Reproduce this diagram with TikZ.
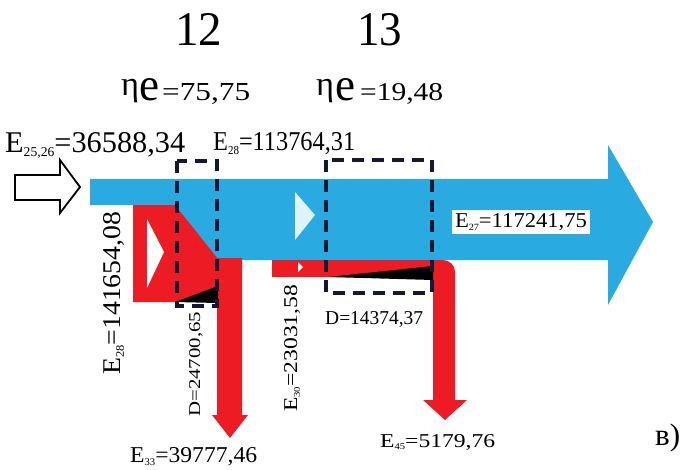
\documentclass[tikz,border=0pt]{standalone}
\usepackage{fontspec}
\setmainfont{Liberation Serif}
\usepackage{graphicx}
\definecolor{flowblue}{RGB}{41,171,226}
\definecolor{flowred}{RGB}{237,28,36}
\definecolor{boxline}{RGB}{20,25,50}
\newcommand\fitbox[3]{\resizebox{#1pt}{#2pt}{#3}}
\newcommand\fitw[2]{\resizebox{#1pt}{!}{#2}}
\newcommand\sbs[1]{\raisebox{-0.15em}{\scalebox{0.45}{#1}}}
\begin{document}
\begin{tikzpicture}[x=1pt,y=-1pt,
  lbl/.style={inner sep=0pt, anchor=base west},
  dbox/.style={draw=boxline, line width=3.2pt, dash pattern=on 12pt off 8pt},
  bluefill/.style={fill=flowblue},
  redfill/.style={fill=flowred},
  wedge/.style={fill=black},
  chevron/.style={fill=white}]
\useasboundingbox (0,0) rectangle (685,469);
% blue main flow
\fill[bluefill] (90,179) -- (608,179) -- (608,145) -- (653,222) -- (608,305) -- (608,260)
  -- (217,260) -- (175,205) -- (90,205) -- cycle;
% red flow 1 (trapezoid + down arrow)
\fill[redfill] (133,205) -- (175,205) -- (218,259) -- (218,288) -- (176,302) -- (133,302) -- cycle;
\fill[redfill] (217,258) -- (242,258) -- (242,415) -- (248,415) -- (230,438) -- (212,415) -- (217,415) -- cycle;
\fill[wedge] (175,302) -- (218,286) -- (218,303) -- cycle;
\fill[chevron] (147,219) -- (164,252) -- (147,288) -- cycle;
% red flow 2
\fill[redfill] (272,260) [rounded corners=12pt] -- (455,260) [sharp corners] -- (455,400) -- (467,400)
  -- (445,420) -- (423,400) -- (433,400) -- (433,277) -- (272,277) -- cycle;
\fill[wedge] (328,277) -- (433,266) -- (433,280) -- cycle;
\fill[chevron] (298,262) -- (303,267) -- (298,272) -- cycle;
% white chevron in blue flow
\fill[white!85!flowblue] (295,192) -- (315,215) -- (295,240) -- cycle;
% hollow input arrow
\draw[line width=1.8pt, fill=white, line join=miter] (15,175) -- (60,175) -- (60,160) -- (80,187)
  -- (60,213) -- (60,200) -- (15,200) -- cycle;
% dashed control boxes
\draw[dbox] (177,161) rectangle (217,306);
\draw[dbox] (326,160) rectangle (432,293);
% titles
\node[lbl] (t12) at (175,45) {\fitbox{47}{32}{12}};
\node[lbl] (t13) at (357,45) {\fitbox{45}{32}{13}};
\node[lbl] (eta1) at (121,95) {\fitw{18}{η}};
\node[lbl] (e1) at (139,100) {\fitbox{20}{22}{e}};
\node[lbl] (v1) at (162,100) {\fitbox{88}{17}{=75,75}};
\node[lbl] (eta2) at (316,95) {\fitw{18}{η}};
\node[lbl] (e2) at (335,100) {\fitbox{20}{22}{e}};
\node[lbl] (v2) at (360,100) {\fitbox{83}{17}{=19,48}};
% flow labels
\node[lbl] (l1) at (5,152) {\fitbox{180}{20}{E\sbs{25,26}=36588,34}};
\node[lbl] (l2) at (213,150) {\fitbox{142}{18}{E\sbs{28}=113764,31}};
\node[fill=white, inner sep=3pt] (l3) at (521,222) {\fitbox{132}{14}{E\sbs{27}=117241,75}};
\node[lbl, rotate=90] (l4) at (120,375) {\fitbox{163}{17}{E\sbs{28}=141654,08}};
\node[lbl, rotate=90] (l5) at (200,417) {\fitbox{105}{11}{D=24700,65}};
\node[lbl, rotate=90] (l6) at (297,412) {\fitbox{127}{13}{E\sbs{30}=23031,58}};
\node[lbl] (l7) at (325,324) {\fitbox{98}{13}{D=14374,37}};
\node[lbl] (l8) at (130,462) {\fitbox{127}{15}{E\sbs{33}=39777,46}};
\node[lbl] (l9) at (380,447) {\fitbox{115}{13}{E\sbs{45}=5179,76}};
\node[lbl] (lb) at (655,445) {\fitw{25}{в)}};
\end{tikzpicture}
\end{document}
